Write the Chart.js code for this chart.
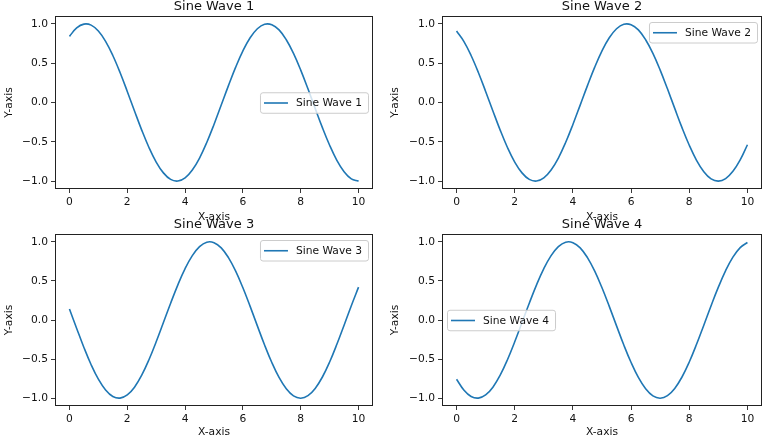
<!DOCTYPE html>
<html>
<head>
<meta charset="utf-8">
<script src="https://cdn.jsdelivr.net/npm/chart.js@4.4.1/dist/chart.umd.min.js"></script>
<style>
  html, body { margin: 0; padding: 0; background: #fff; }
  body { width: 768px; height: 439px; position: relative; overflow: hidden; }
  canvas { position: absolute; }
</style>
</head>
<body>
<canvas id="wave1" width="384" height="226" style="left:0px;top:0px"></canvas>
<canvas id="wave2" width="384" height="226" style="left:384px;top:0px"></canvas>
<canvas id="wave3" width="384" height="227" style="left:0px;top:212px"></canvas>
<canvas id="wave4" width="384" height="227" style="left:384px;top:212px"></canvas>
<script>
// data
const xValues = [0, 0.25, 0.5, 0.75, 1, 1.25, 1.5, 1.75, 2, 2.25, 2.5, 2.75, 3, 3.25, 3.5, 3.75, 4, 4.25, 4.5, 4.75,
  5, 5.25, 5.5, 5.75, 6, 6.25, 6.5, 6.75, 7, 7.25, 7.5, 7.75, 8, 8.25, 8.5, 8.75, 9, 9.25, 9.5, 9.75, 10];

const sineWave1 = [0.841, 0.949, 0.997, 0.984, 0.909, 0.778, 0.598, 0.382, 0.141, -0.108,
  -0.351, -0.572, -0.757, -0.895, -0.978, -0.999, -0.959, -0.859, -0.706, -0.508,
  -0.279, -0.033, 0.215, 0.450, 0.657, 0.823, 0.938, 0.995, 0.989, 0.923,
  0.798, 0.625, 0.412, 0.174, -0.075, -0.320, -0.544, -0.735, -0.880, -0.971, -1.000];

const sineWave2 = [0.909, 0.778, 0.598, 0.382, 0.141, -0.108, -0.351, -0.572, -0.757, -0.895,
  -0.978, -0.999, -0.959, -0.859, -0.706, -0.508, -0.279, -0.033, 0.215, 0.450,
  0.657, 0.823, 0.938, 0.995, 0.989, 0.923, 0.798, 0.625, 0.412, 0.174,
  -0.075, -0.320, -0.544, -0.735, -0.880, -0.971, -1.000, -0.968, -0.875, -0.729, -0.537];

const sineWave3 = [0.141, -0.108, -0.351, -0.572, -0.757, -0.895, -0.978, -0.999, -0.959, -0.859,
  -0.706, -0.508, -0.279, -0.033, 0.215, 0.450, 0.657, 0.823, 0.938, 0.995,
  0.989, 0.923, 0.798, 0.625, 0.412, 0.174, -0.075, -0.320, -0.544, -0.735,
  -0.880, -0.971, -1.000, -0.968, -0.875, -0.729, -0.537, -0.311, -0.066, 0.183, 0.420];

const sineWave4 = [-0.757, -0.895, -0.978, -0.999, -0.959, -0.859, -0.706, -0.508, -0.279, -0.033,
  0.215, 0.450, 0.657, 0.823, 0.938, 0.995, 0.989, 0.923, 0.798, 0.625,
  0.412, 0.174, -0.075, -0.320, -0.544, -0.735, -0.880, -0.971, -1.000, -0.968,
  -0.875, -0.729, -0.537, -0.311, -0.066, 0.183, 0.420, 0.632, 0.804, 0.926, 0.991];

const xTicks = [0, 2, 4, 6, 8, 10];
const yTicks = [-1.0, -0.5, 0.0, 0.5, 1.0];
const titles = ['Sine Wave 1', 'Sine Wave 2', 'Sine Wave 3', 'Sine Wave 4'];
const legendPlaces = ['center right', 'upper right', 'upper right', 'center left'];

Chart.defaults.font.family = '"DejaVu Sans", sans-serif';
Chart.defaults.color = '#111';

const BLUE = '#1f77b4';
const FONT_SMALL = 10.7;

// panel layout: canvas id, y-axis width, x-axis height, padding
const panels = [
  { id: 'wave1', data: sineWave1, yW: 55, xH: 37, pad: { top: 16, right: 11, left: 0, bottom: 0 }, xTitlePad: 2, yTitlePad: 3 },
  { id: 'wave2', data: sineWave2, yW: 58, xH: 37, pad: { top: 16, right: 6, left: 0, bottom: 0 }, xTitlePad: 2, yTitlePad: 5 },
  { id: 'wave3', data: sineWave3, yW: 55, xH: 33, pad: { top: 22, right: 11, left: 0, bottom: 0 }, xTitlePad: 0, yTitlePad: 3 },
  { id: 'wave4', data: sineWave4, yW: 58, xH: 33, pad: { top: 22, right: 6, left: 0, bottom: 0 }, xTitlePad: 0, yTitlePad: 5 },
];

// box + title + in-axes legend, matplotlib style
const framePlugin = {
  id: 'frame',
  afterDraw(chart, args, opts) {
    const ctx = chart.ctx;
    const ca = chart.chartArea;
    ctx.save();

    // spines
    ctx.strokeStyle = '#222';
    ctx.lineWidth = 1;
    ctx.strokeRect(Math.round(ca.left) + 0.5, Math.round(ca.top) + 0.5,
      Math.round(ca.right - ca.left) - 1, Math.round(ca.bottom - ca.top) - 1);

    // title
    ctx.font = '13px "DejaVu Sans"';
    ctx.fillStyle = '#111';
    ctx.textAlign = 'center';
    ctx.textBaseline = 'alphabetic';
    ctx.fillText(opts.title, (ca.left + ca.right) / 2, ca.top - 6.5);

    // legend
    ctx.font = FONT_SMALL + 'px "DejaVu Sans"';
    const label = chart.data.datasets[0].label;
    const tw = ctx.measureText(label).width;
    const w = 42 + tw;
    const h = 20.5;
    let x, y;
    if (opts.place === 'upper right') {
      x = ca.right - 5 - w;
      y = ca.top + 6;
    } else if (opts.place === 'center right') {
      x = ca.right - 5 - w;
      y = (ca.top + ca.bottom) / 2 - h / 2;
    } else {
      x = ca.left + 5;
      y = (ca.top + ca.bottom) / 2 - h / 2;
    }
    ctx.beginPath();
    ctx.roundRect(x + 0.5, y + 0.5, w, h, 2.5);
    ctx.fillStyle = 'rgba(255,255,255,0.8)';
    ctx.fill();
    ctx.strokeStyle = '#cccccc';
    ctx.lineWidth = 1;
    ctx.stroke();

    ctx.beginPath();
    ctx.moveTo(x + 4, y + h / 2 + 0.5);
    ctx.lineTo(x + 28, y + h / 2 + 0.5);
    ctx.strokeStyle = BLUE;
    ctx.lineWidth = 1.6;
    ctx.stroke();

    ctx.fillStyle = '#111';
    ctx.textAlign = 'left';
    ctx.textBaseline = 'middle';
    ctx.fillText(label, x + 36, y + h / 2 + 1);
    ctx.restore();
  }
};

function fmtTick(v) {
  return (v < 0 ? '\u2212' : '') + Math.abs(v).toFixed(1);
}

panels.forEach(function(p, i) {
  const el = document.getElementById(p.id);
  new Chart(el, {
    type: 'line',
    data: {
      datasets: [{
        label: titles[i],
        data: xValues.map((x, k) => ({ x: x, y: p.data[k] })),
        borderColor: BLUE,
        borderWidth: 1.6,
        pointRadius: 0,
        tension: 0.4,
        fill: false,
      }]
    },
    options: {
      responsive: false,
      animation: false,
      layout: { padding: p.pad },
      plugins: {
        legend: { display: false },
        tooltip: { enabled: false },
        title: { display: false },
        frame: { title: titles[i], place: legendPlaces[i] },
      },
      scales: {
        x: {
          type: 'linear',
          min: -0.5,
          max: 10.5,
          afterBuildTicks: axis => { axis.ticks = xTicks.map(v => ({ value: v })); },
          afterFit: axis => { axis.height = p.xH; },
          ticks: { font: { size: FONT_SMALL }, color: '#111', padding: 3, maxRotation: 0, autoSkip: false },
          grid: { drawOnChartArea: false, drawTicks: true, tickLength: 4, color: '#222', tickWidth: 0.9 },
          border: { display: false },
          title: { display: true, text: 'X-axis', font: { size: FONT_SMALL }, color: '#111',
                   padding: { top: 0, bottom: p.xTitlePad } },
        },
        y: {
          type: 'linear',
          min: -1.1,
          max: 1.1,
          afterBuildTicks: axis => { axis.ticks = yTicks.map(v => ({ value: v })); },
          afterFit: axis => { axis.width = p.yW; },
          ticks: { font: { size: FONT_SMALL }, color: '#111', padding: 3, callback: fmtTick },
          grid: { drawOnChartArea: false, drawTicks: true, tickLength: 4, color: '#222', tickWidth: 0.9 },
          border: { display: false },
          title: { display: true, text: 'Y-axis', font: { size: FONT_SMALL }, color: '#111',
                   padding: { top: p.yTitlePad, bottom: 0 } },
        }
      }
    },
    plugins: [framePlugin]
  });
});
</script>
</body>
</html>
